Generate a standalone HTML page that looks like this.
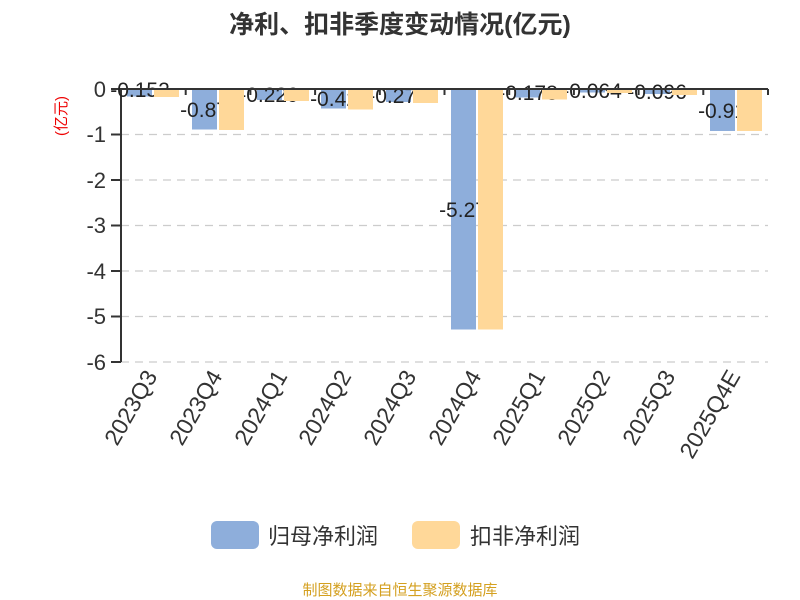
<!DOCTYPE html>
<html><head><meta charset="utf-8"><style>body{margin:0;background:#fff}svg{display:block}</style></head><body>
<svg width="800" height="600" xmlns="http://www.w3.org/2000/svg" font-family="'Liberation Sans','Noto Sans CJK SC',sans-serif">
<text x="400" y="33" text-anchor="middle" font-size="25" font-weight="bold" fill="#333">净利、扣非季度变动情况(亿元)</text>
<text transform="translate(66,116) rotate(-90)" text-anchor="middle" font-size="15" fill="#e00">(亿元)</text>
<g stroke="#ccc" stroke-dasharray="8,6" stroke-width="1.3">
<line x1="121" y1="134.5" x2="768" y2="134.5"/><line x1="121" y1="180" x2="768" y2="180"/><line x1="121" y1="225.5" x2="768" y2="225.5"/><line x1="121" y1="271" x2="768" y2="271"/><line x1="121" y1="316.5" x2="768" y2="316.5"/><line x1="121" y1="362" x2="768" y2="362"/>
</g>
<g font-size="22" fill="#333" text-anchor="end">
<text x="106" y="97">0</text><text x="106" y="142">-1</text><text x="106" y="188">-2</text><text x="106" y="233">-3</text><text x="106" y="279">-4</text><text x="106" y="324">-5</text><text x="106" y="370">-6</text>
</g>
<g stroke="#333" stroke-width="2">
<line x1="121" y1="89" x2="121" y2="362"/>
<line x1="111" y1="89" x2="121" y2="89"/><line x1="111" y1="134.5" x2="121" y2="134.5"/><line x1="111" y1="180" x2="121" y2="180"/><line x1="111" y1="225.5" x2="121" y2="225.5"/><line x1="111" y1="271" x2="121" y2="271"/><line x1="111" y1="316.5" x2="121" y2="316.5"/><line x1="111" y1="362" x2="121" y2="362"/>
</g>
<g fill="#8eaedb">
<rect x="127" y="89.5" width="25" height="7"/>
<rect x="192" y="89.5" width="25" height="40"/>
<rect x="257" y="89.5" width="25" height="10.5"/>
<rect x="321" y="89.5" width="25" height="19"/>
<rect x="386" y="89.5" width="25" height="12.5"/>
<rect x="451" y="89.5" width="25" height="240"/>
<rect x="515" y="89.5" width="25" height="8"/>
<rect x="580" y="89.5" width="25" height="3"/>
<rect x="645" y="89.5" width="25" height="4.5"/>
<rect x="710" y="89.5" width="25" height="41.5"/>
</g>
<g font-size="21" fill="#222" text-anchor="middle">
<text x="140" y="97">-0.152</text>
<text x="204" y="117">-0.87</text>
<text x="269" y="102">-0.229</text>
<text x="334" y="106">-0.42</text>
<text x="398" y="103">-0.271</text>
<text x="463" y="217">-5.27</text>
<text x="528" y="100">-0.178</text>
<text x="592" y="98">-0.064</text>
<text x="657" y="99">-0.096</text>
<text x="722" y="118">-0.91</text>
</g>
<g fill="#ffd899">
<rect x="154" y="89.5" width="25" height="7.5"/>
<rect x="219" y="89.5" width="25" height="40.5"/>
<rect x="284" y="89.5" width="25" height="11.5"/>
<rect x="348" y="89.5" width="25" height="20"/>
<rect x="413" y="89.5" width="25" height="13.5"/>
<rect x="478" y="89.5" width="25" height="240"/>
<rect x="542" y="89.5" width="25" height="10"/>
<rect x="607" y="89.5" width="25" height="3.5"/>
<rect x="672" y="89.5" width="25" height="5.5"/>
<rect x="737" y="89.5" width="25" height="41.5"/>
</g>
<g stroke="#333" stroke-width="2">
<line x1="121" y1="89" x2="768" y2="89"/>
<line x1="185.7" y1="89" x2="185.7" y2="95"/><line x1="250.4" y1="89" x2="250.4" y2="95"/><line x1="315.1" y1="89" x2="315.1" y2="95"/><line x1="379.8" y1="89" x2="379.8" y2="95"/><line x1="444.5" y1="89" x2="444.5" y2="95"/><line x1="509.2" y1="89" x2="509.2" y2="95"/><line x1="573.9" y1="89" x2="573.9" y2="95"/><line x1="638.6" y1="89" x2="638.6" y2="95"/><line x1="703.3" y1="89" x2="703.3" y2="95"/><line x1="768" y1="89" x2="768" y2="95"/>
</g>
<g font-size="23" fill="#333" text-anchor="end">
<text transform="translate(158,376) rotate(-60)">2023Q3</text>
<text transform="translate(223,376) rotate(-60)">2023Q4</text>
<text transform="translate(288,376) rotate(-60)">2024Q1</text>
<text transform="translate(352,376) rotate(-60)">2024Q2</text>
<text transform="translate(417,376) rotate(-60)">2024Q3</text>
<text transform="translate(482,376) rotate(-60)">2024Q4</text>
<text transform="translate(546,376) rotate(-60)">2025Q1</text>
<text transform="translate(611,376) rotate(-60)">2025Q2</text>
<text transform="translate(676,376) rotate(-60)">2025Q3</text>
<text transform="translate(741,376) rotate(-60)">2025Q4E</text>
</g>
<rect x="211" y="521" width="48" height="28" rx="6" fill="#8eaedb"/>
<text x="268" y="544" font-size="22" fill="#333">归母净利润</text>
<rect x="412" y="521" width="48" height="28" rx="6" fill="#ffd899"/>
<text x="470" y="544" font-size="22" fill="#333">扣非净利润</text>
<text x="400" y="595" text-anchor="middle" font-size="15" fill="#d4a020">制图数据来自恒生聚源数据库</text>
</svg>
</body></html>
